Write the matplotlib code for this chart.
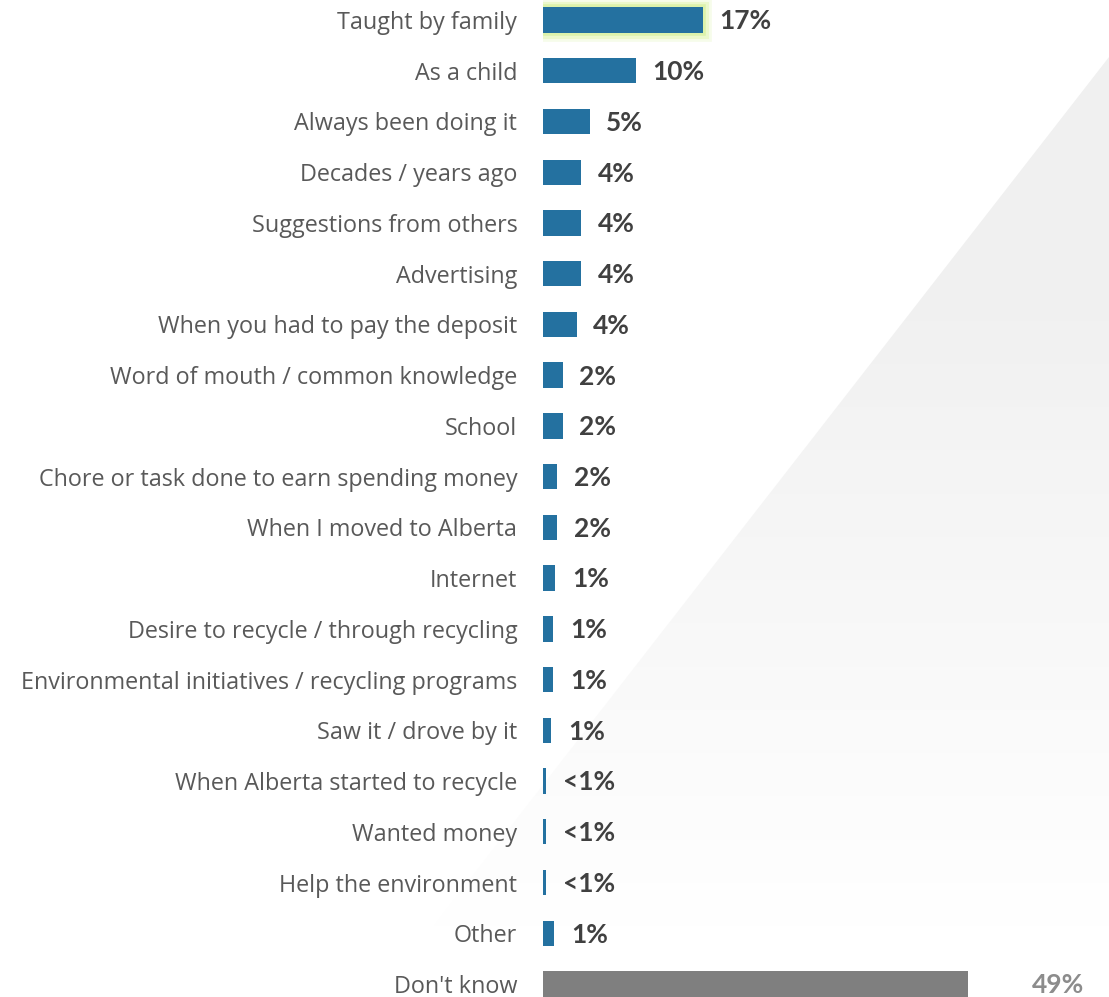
import matplotlib
matplotlib.use("Agg")
import matplotlib.pyplot as plt
import matplotlib.patheffects as pe
import numpy as np
from matplotlib.patches import Polygon

categories = [
    "Taught by family", "As a child", "Always been doing it", "Decades / years ago",
    "Suggestions from others", "Advertising", "When you had to pay the deposit",
    "Word of mouth / common knowledge", "School", "Chore or task done to earn spending money",
    "When I moved to Alberta", "Internet", "Desire to recycle / through recycling",
    "Environmental initiatives / recycling programs", "Saw it / drove by it",
    "When Alberta started to recycle", "Wanted money", "Help the environment", "Other",
]
values = [17.1, 9.9, 5.0, 4.1, 4.1, 4.1, 3.6, 2.1, 2.1, 1.5, 1.5, 1.3, 1.1, 1.1, 0.9,
          0.35, 0.35, 0.35, 1.2]
value_labels = ["17%", "10%", "5%", "4%", "4%", "4%", "4%", "2%", "2%", "2%", "2%",
                "1%", "1%", "1%", "1%", "<1%", "<1%", "<1%", "1%"]
dk_category = "Don't know"
dk_value = 49
dk_label = "49%"

W, H = 1109, 997
fig = plt.figure(figsize=(W / 100, H / 100), dpi=100)
fig.patch.set_facecolor("white")

# background diagonal shape with vertical fade
bg = fig.add_axes([0, 0, 1, 1], zorder=0)
bg.set_xlim(0, W)
bg.set_ylim(H, 0)
bg.axis("off")
ny = 400
yy = np.linspace(0, H, ny)
grad = np.ones((ny, 2, 4))
grad[..., :3] = 0.945
alpha = np.clip((930 - yy) / (930 - 280), 0, 1)
grad[..., 3] = alpha[:, None]
im = bg.imshow(grad, extent=[0, W, H, 0], aspect="auto", interpolation="bilinear")
slope = (850 - 1109) / (390 - 57)
x_at_bottom = 1109 + slope * (H - 57)
poly = Polygon([(W, 57), (W, H), (x_at_bottom, H)], closed=True,
               transform=bg.transData, facecolor="none", edgecolor="none")
bg.add_patch(poly)
im.set_clip_path(poly)

ax = fig.add_axes([543 / W, 0, (W - 543) / W, 1], zorder=2)
ax.patch.set_alpha(0)
sp = (984 - 20) / 19
ylim = (19 + (997 - 984) / sp, -20 / sp)
ypos = np.arange(len(categories))
blue = "#2471A0"
bars = ax.barh(ypos, values, height=0.5, color=blue, zorder=3)
glow = [pe.withStroke(linewidth=12, foreground="#f6fcea"),
        pe.withStroke(linewidth=8, foreground="#ebf8cc"),
        pe.withStroke(linewidth=4, foreground="#dcf2ab"), pe.Normal()]
bars[0].set_path_effects(glow)
ax.set_xlim(0, (W - 543) / 9.35)
ax.set_ylim(*ylim)
for y, v, lab in zip(ypos, values, value_labels):
    ax.annotate(lab, (v, y), xytext=(12, -1), textcoords="offset points",
                va="center", ha="left", fontsize=19, fontweight="bold",
                family="Lato", color="#404040")

ax.set_yticks(list(ypos) + [19])
ax.set_yticklabels(categories + [dk_category], family="Open Sans", fontsize=16.8,
                   color="#595959")
ax.tick_params(axis="y", length=0, pad=18.5)
ax.tick_params(axis="x", bottom=False, labelbottom=False)
for s in ax.spines.values():
    s.set_visible(False)

ax2 = ax.twiny()
ax2.set_xlim(0, (W - 543) / 8.67)
ax2.set_ylim(*ylim)
ax2.barh([19], [dk_value], height=0.5, color="#7f7f7f")
ax2.annotate(dk_label, (dk_value, 19), xytext=(46, -1), textcoords="offset points",
             va="center", ha="left", fontsize=19, fontweight="bold",
             family="Lato", color="#8c8c8c")
ax2.tick_params(axis="x", top=False, labeltop=False)
for s in ax2.spines.values():
    s.set_visible(False)

fig.savefig("out.png", dpi=100, facecolor="white")
